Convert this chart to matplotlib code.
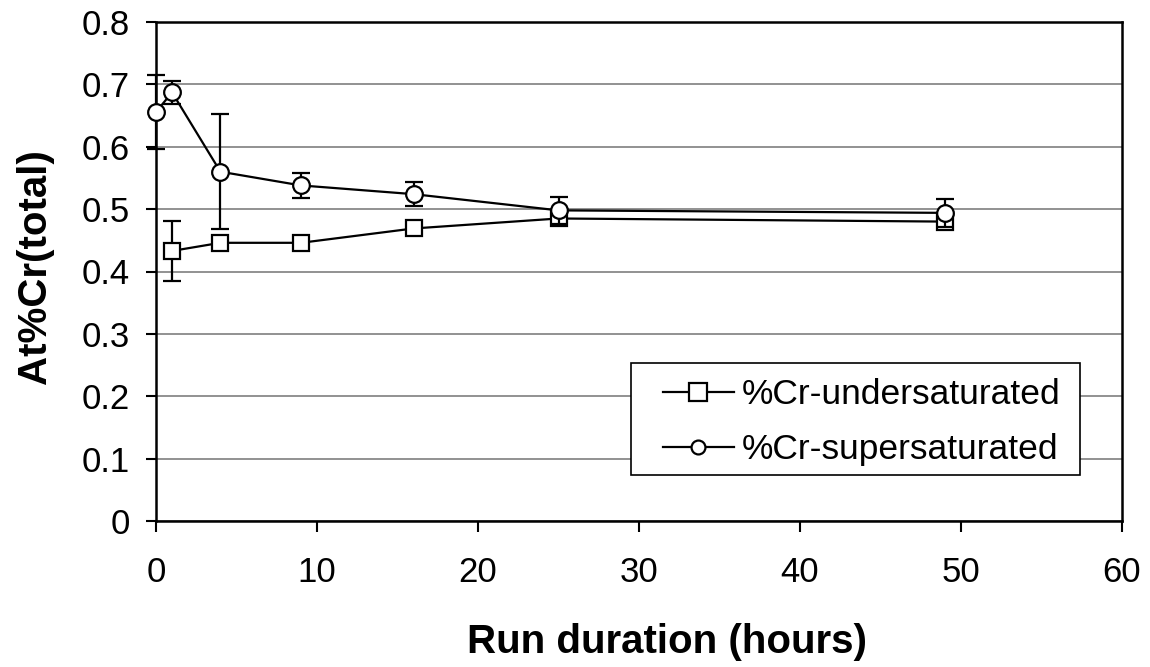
import matplotlib
matplotlib.use("Agg")
import matplotlib.pyplot as plt
from matplotlib.lines import Line2D
from matplotlib.patches import Rectangle

plt.rcParams['font.family'] = ['Liberation Sans', 'DejaVu Sans']

# Run durations (hours)
hours = [0, 1, 4, 9, 16, 25, 49]
hours_under = [1, 4, 9, 16, 25, 49]

# At% Cr (total) for the two starting conditions
cr_under = [0.433, 0.446, 0.446, 0.469, 0.485, 0.480]
cr_under_err = [0.048, 0.0, 0.0, 0.0, 0.010, 0.008]

cr_super = [0.656, 0.687, 0.560, 0.538, 0.524, 0.498, 0.494]
cr_super_err = [0.059, 0.018, 0.092, 0.020, 0.019, 0.022, 0.023]

series_labels = ['%Cr-undersaturated', '%Cr-supersaturated']

x_ticks = [0, 10, 20, 30, 40, 50, 60]
y_ticks = [0, 0.1, 0.2, 0.3, 0.4, 0.5, 0.6, 0.7, 0.8]
y_tick_labels = ['0', '0.1', '0.2', '0.3', '0.4', '0.5', '0.6', '0.7', '0.8']

W, H = 1150, 667
fig = plt.figure(figsize=(W / 100, H / 100), dpi=100)
left, right, bottom, top = 156, 1122, 521, 22
ax = fig.add_axes([left / W, 1 - bottom / H, (right - left) / W, (bottom - top) / H])


def px_to_axes(px, py):
    return (px - left) / (right - left), (bottom - py) / (bottom - top)


common = dict(color='black', lw=1.6, ms=12, mew=1.6, mfc='white', mec='black',
              ecolor='black', elinewidth=1.6, capsize=6.5, capthick=1.6, clip_on=False)

ax.errorbar(hours_under, cr_under, yerr=cr_under_err, marker='s', zorder=3, **common)
ax.errorbar(hours, cr_super, yerr=cr_super_err, marker='o', zorder=4, **common)

ax.set_xlim(0, 60)
ax.set_ylim(0, 0.8)
ax.set_xticks(x_ticks)
ax.set_yticks(y_ticks)
ax.set_yticklabels(y_tick_labels)

ax.yaxis.grid(True, color='#7f7f7f', lw=1.2)
ax.set_axisbelow(True)

for s in ax.spines.values():
    s.set_color('black')
    s.set_linewidth(1.8)

ax.tick_params(axis='both', direction='out', colors='black', width=1.5,
               length=7, labelsize=25)
ax.tick_params(axis='x', pad=17, length=8)
ax.tick_params(axis='y', pad=12)

ax.set_xlabel('Run duration (hours)', fontsize=29, fontweight='bold', va='baseline')
ax.xaxis.set_label_coords(0.529, (bottom - 653) / (bottom - top))
ax.set_ylabel('At%Cr(total)', fontsize=29, fontweight='bold', va='center')
ax.yaxis.set_label_coords(*px_to_axes(35, 267))

# Legend box
x0, y0 = px_to_axes(631, 475)
x1, y1 = px_to_axes(1080, 363)
ax.add_patch(Rectangle((x0, y0), x1 - x0, y1 - y0, transform=ax.transAxes,
                       facecolor='white', edgecolor='black', lw=1.2,
                       zorder=5, clip_on=False))

handles = [
    Line2D([], [], color='black', lw=1.6, marker='s', ms=13.5, mew=1.6,
           mfc='white', mec='black'),
    Line2D([], [], color='black', lw=1.6, marker='o', ms=10, mew=1.6,
           mfc='white', mec='black'),
]
leg = ax.legend(handles, series_labels, loc='center left',
                bbox_to_anchor=px_to_axes(663, 422),
                borderaxespad=0, borderpad=0, fontsize=25.5, frameon=False,
                handlelength=2.0, handletextpad=0.22, labelspacing=0.62)
leg.set_zorder(6)

fig.savefig('out.png', dpi=100, facecolor='white')
